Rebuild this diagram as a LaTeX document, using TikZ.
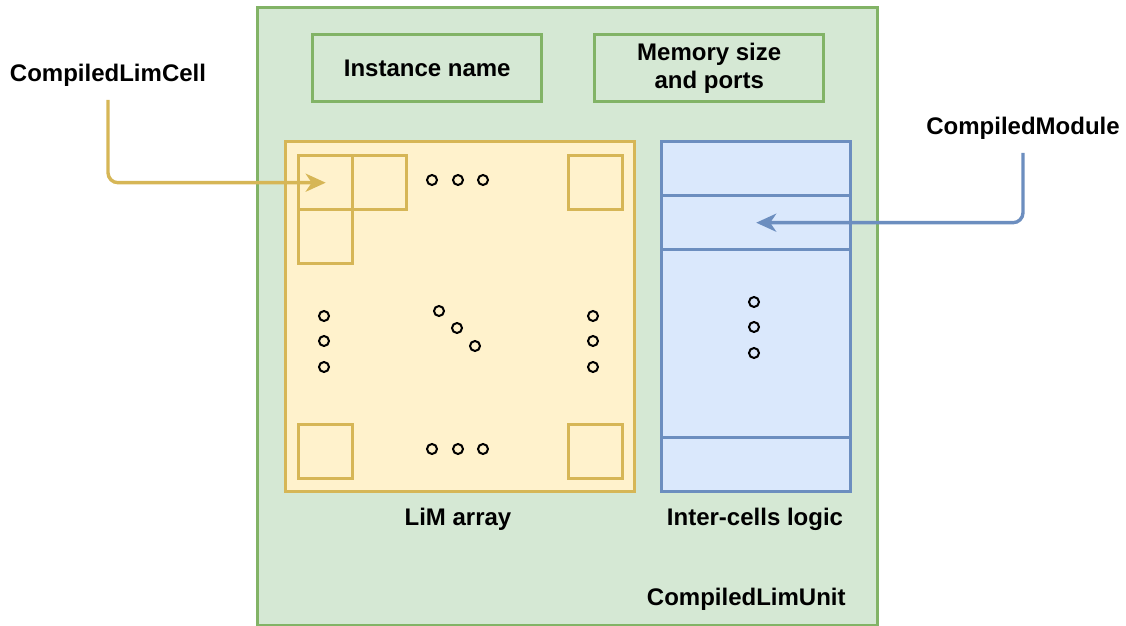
\documentclass[tikz,border=0pt]{standalone}
\usepackage{fontspec}
\setmainfont{Liberation Sans}
\usetikzlibrary{arrows.meta}
\definecolor{grnfill}{HTML}{D5E8D4}
\definecolor{grnline}{HTML}{82B366}
\definecolor{ylwfill}{HTML}{FFF2CC}
\definecolor{ylwline}{HTML}{D6B656}
\definecolor{bluefill}{HTML}{DAE8FC}
\definecolor{blueline}{HTML}{6C8EBF}
\begin{document}
\begin{tikzpicture}[x=0.5pt,y=-0.5pt,
  lbl/.style={font=\fontsize{12}{14}\selectfont\bfseries, inner sep=0pt, align=center},
  box/.style={draw, line width=1.7pt, anchor=north west, inner sep=0pt,
    font=\fontsize{12}{14}\selectfont\bfseries, align=center},
  grnbox/.style={box, draw=grnline, fill=grnfill},
  ylwbox/.style={box, draw=ylwline, fill=ylwfill},
  bluebox/.style={box, draw=blueline, fill=bluefill, minimum width=94.5pt},
  cell/.style={box, draw=ylwline, minimum width=27pt, minimum height=27pt},
  pointer/.style={line width=1.7pt, rounded corners=5pt,
    -{Stealth[length=10pt,width=9pt,inset=3pt]}},
  dot/.style={line width=1pt}
]
\useasboundingbox (0,0) rectangle (1126,626);

% outer unit
\node[grnbox, minimum width=310pt, minimum height=309pt] (unit) at (256,6) {};
\node[lbl, anchor=east] (unitlbl) at (846,599) {CompiledLimUnit};

% header fields
\node[grnbox, minimum width=114.5pt, minimum height=33.5pt] (inst) at (311,33) {Instance name};
\node[grnbox, minimum width=114.5pt, minimum height=33.5pt] (mem) at (593,33) {Memory size\\and ports};

% LiM array
\node[ylwbox, minimum width=174.5pt, minimum height=175pt] (array) at (284,140) {};
\node[cell] (c11) at (297,154) {};
\node[cell] (c12) at (351,154) {};
\node[cell] (c21) at (297,208) {};
\node[cell] (c1n) at (567,154) {};
\node[cell] (cn1) at (297,423) {};
\node[cell] (cnn) at (567,423) {};
\node[lbl] (arraylbl) at (458,519) {LiM array};

% ellipsis dots of the array
\foreach \x in {432,458,483} {
  \draw[dot] (\x,180) circle[radius=2.5pt];
  \draw[dot] (\x,449) circle[radius=2.5pt];
}
\foreach \y in {316,341,367} {
  \draw[dot] (324,\y) circle[radius=2.5pt];
  \draw[dot] (593,\y) circle[radius=2.5pt];
}
\foreach \x/\y in {439/311,457/328,475/346}
  \draw[dot] (\x,\y) circle[radius=2.5pt];

% inter-cells logic stack
\node[bluebox, minimum height=27pt] (m1) at (660,140) {};
\node[bluebox, minimum height=27pt] (m2) at (660,194) {};
\node[bluebox, minimum height=94pt] (m3) at (660,248) {};
\node[bluebox, minimum height=27pt] (m4) at (660,436) {};
\foreach \y in {302,327,353}
  \draw[dot] (754,\y) circle[radius=2.5pt];
\node[lbl] (logiclbl) at (755,519) {Inter-cells logic};

% callouts
\node[lbl] (cellname) at (108,75) {CompiledLimCell};
\coordinate (cellfrom) at (108,100);
\draw[pointer, draw=ylwline] (cellfrom) |- (c11.center);

\node[lbl] (modname) at (1023,128) {CompiledModule};
\coordinate (modfrom) at (1023,153);
\draw[pointer, draw=blueline] (modfrom) |- (m2.center);
\end{tikzpicture}
\end{document}
